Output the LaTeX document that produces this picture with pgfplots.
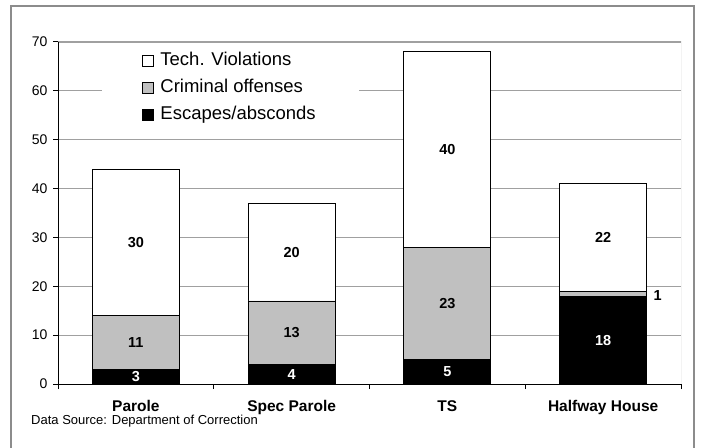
\documentclass[border=0pt]{standalone}
\usepackage{pgfplots}
\pgfplotsset{compat=1.18}
\usepackage{fontspec}
\setmainfont{Liberation Sans}
\definecolor{critgray}{RGB}{192,192,192}
\definecolor{gridgray}{RGB}{160,160,160}
\definecolor{framegray}{RGB}{140,140,140}
\pgfplotsset{
  myleg/.style={legend image code/.code={\draw[##1,draw=black,line width=0.8pt] (0pt,-5.5pt) rectangle (11pt,5.5pt); \path (14.5pt,0pt);}},
}
\begin{document}
\begin{tikzpicture}[x=1pt,y=1pt]
\useasboundingbox (0,0) rectangle (703,447);
\draw[framegray, line width=1.2pt] (11,-5) -- (11,441) -- (694,441) -- (694,-5);
\begin{axis}[
  at={(58pt,63pt)}, anchor=south west,
  scale only axis, width=623pt, height=342pt,
  ybar stacked, bar width=87pt,
  xmin=-0.5, xmax=3.5, ymin=0, ymax=70,
  axis x line*=bottom, axis y line*=left,
  axis line style={black, line width=1pt},
  xtick={0,1,2,3},
  xticklabels={Parole, Spec Parole, TS, Halfway House},
  major x tick style={draw=none},
  minor xtick={-0.5,0.5,1.5,2.5,3.5},
  minor x tick style={black, line width=1pt},
  ytick={0,10,...,70},
  y tick style={black, line width=1pt},
  tick align=outside,
  major tick length=5pt, minor tick length=5pt,
  ymajorgrids,
  grid style={gridgray, line width=0.9pt},
  /pgf/number format/assume math mode=true,
  yticklabel style={font=\fontsize{14}{16}\selectfont, xshift=-2pt},
  xticklabel style={font=\bfseries\fontsize{15.5}{18}\selectfont, yshift=-8pt},
  reverse legend,
  legend cell align=left,
  legend style={at={(rel axis cs:0.0705,0.99)}, anchor=north west,
    draw=none, fill=white, inner xsep=40pt, inner ysep=6.5pt,
    font=\fontsize{18.5}{21}\selectfont, row sep=9.5pt,
    nodes={inner xsep=3pt, inner ysep=0pt, text height=13.5pt, text depth=4pt}},
]
\addplot[fill=black, draw=black, line width=0.8pt, myleg] coordinates {(0,3) (1,4) (2,5) (3,18)};
\addlegendentry{Escapes/absconds}
\addplot[fill=critgray, draw=black, line width=0.8pt, myleg] coordinates {(0,11) (1,13) (2,23) (3,1)};
\addlegendentry{Criminal offenses}
\addplot[fill=white, draw=black, line width=0.8pt, myleg] coordinates {(0,30) (1,20) (2,40) (3,22)};
\addlegendentry{Tech. Violations}
\draw[gridgray, line width=1pt] (rel axis cs:0,1) -- (rel axis cs:1,1) -- (rel axis cs:1,0);
\end{axis}
\begin{axis}[
  at={(58pt,63pt)}, anchor=south west,
  scale only axis, width=623pt, height=342pt,
  xmin=-0.5, xmax=3.5, ymin=0, ymax=70,
  hide axis,
  every node near coord/.append style={anchor=center, font=\bfseries\fontsize{14.5}{17}\selectfont},
]
\addplot[draw=none, mark=none, nodes near coords, point meta=explicit symbolic,
  every node near coord/.append style={text=black}] table[meta=lab] {
x y lab
0 8.5 11
0 29 30
1 10.5 13
1 27 20
2 16.5 23
2 48 40
3 30 22
3.35 18.2 1
};
\addplot[draw=none, mark=none, nodes near coords, point meta=explicit symbolic,
  every node near coord/.append style={text=white}] table[meta=lab] {
x y lab
0 1.5 3
1 2 4
2 2.5 5
3 9 18
};
\end{axis}
\node[anchor=west, font=\fontsize{13}{15}\selectfont, inner sep=0pt] at (31,26) {Data Source: Department of Correction};
\end{tikzpicture}
\end{document}
